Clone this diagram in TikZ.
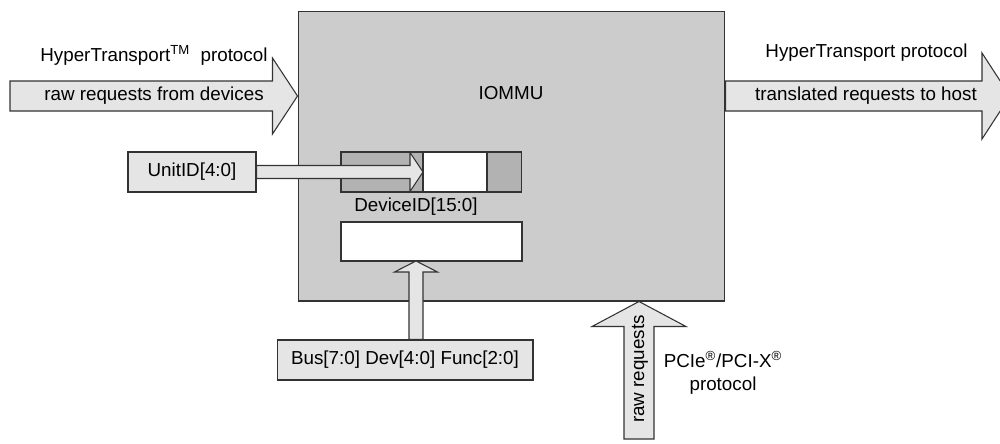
\documentclass[tikz,border=0pt]{standalone}
\usepackage{fontspec}
\setmainfont{Liberation Sans}
\usetikzlibrary{calc,positioning}
\definecolor{boxG}{gray}{0.8}
\definecolor{lightG}{gray}{0.9}
\definecolor{darkG}{gray}{0.7}
\definecolor{lineG}{gray}{0.2}
% block arrow: #1 start, #2 tip, #3 half body, #4 half head, #5 head length
\newcommand{\blockarrow}[5]{%
  \coordinate (bah) at ($(#2)!#5!(#1)$);
  \draw[fatarr] ($(#1)!#3!90:(#2)$) -- ($(bah)!#3!90:(#2)$) -- ($(bah)!#4!90:(#2)$) -- (#2)
    -- ($(bah)!#4!-90:(#2)$) -- ($(bah)!#3!-90:(#2)$) -- ($(#1)!#3!-90:(#2)$) -- cycle;}
\tikzset{
  fatarr/.style={draw=lineG, fill=lightG, line join=miter},
  plainbox/.style={draw=lineG, fill=lightG, minimum height=0.8cm, inner sep=0pt},
  regcell/.style={draw=lineG, minimum height=0.8cm, outer sep=0pt, inner sep=0pt},
  lbl/.style={inner sep=0pt}
}

\begin{document}
\begin{tikzpicture}[x=0.02cm, y=-0.02cm, line width=0.6pt, font=\fontsize{10.7}{13}\selectfont]
\useasboundingbox (0,0) rectangle (1000,443);
% ---------- IOMMU ----------
\node[draw=lineG, fill=boxG, minimum width=8.54cm, minimum height=5.8cm] (iommu) at (511.5,156) {};
\node[lbl] (iommulbl) at (511,93) {IOMMU};
% DeviceID register
\node[regcell, fill=darkG, minimum width=1.64cm, anchor=west] (reg1) at (341,172) {};
\node[regcell, fill=white, minimum width=1.28cm, right=0pt of reg1] (reg2) {};
\node[regcell, fill=darkG, minimum width=0.70cm, right=0pt of reg2] (reg3) {};
\node[lbl] (devid) at (416,207) {DeviceID[15:0]};
\node[regcell, fill=white, minimum width=3.62cm, minimum height=0.78cm] (idx) at (431.5,241.5) {};
% ---------- HyperTransport ----------
\coordinate (inL) at (10,96);
\coordinate (inT) at (iommu.west |- inL);
\blockarrow{inL}{inT}{0.3cm}{0.76cm}{0.5cm}
\node[lbl] (inlbl) at (154,96) {raw requests from devices};
\node[lbl, anchor=east] (htin) at (268,55) {HyperTransport\textsuperscript{TM}\ \ protocol};
\coordinate (outR) at (1010,96);
\coordinate (outS) at (iommu.east |- outR);
\blockarrow{outS}{outR}{0.3cm}{0.86cm}{0.56cm}
\node[lbl] (outlbl) at (866,96) {translated requests to host};
\node[lbl, anchor=east] (htout) at (968,53) {HyperTransport protocol};
% UnitID
\node[plainbox, minimum width=2.56cm] (unit) at (192,172) {UnitID[4:0]};
\blockarrow{unit.east}{reg2.west}{0.13cm}{0.39cm}{0.26cm}
% Bus/Dev/Func
\node[plainbox, minimum width=5.12cm] (bus) at (405,360) {Bus[7:0] Dev[4:0] Func[2:0]};
\coordinate (busT) at ($(idx.south)+(-15.5,0)$);
\coordinate (busS) at (bus.north -| busT);
\blockarrow{busS}{busT}{0.14cm}{0.43cm}{0.22cm}
% ---------- PCIe ----------
\coordinate (rawS) at (639,439);
\coordinate (rawT) at (iommu.south -| rawS);
\blockarrow{rawS}{rawT}{0.3cm}{0.94cm}{0.5cm}
\node[lbl, rotate=90] (rawlbl) at (640,369) {raw requests};
\node[lbl, align=center] (pcie) at (723,373) {PCIe\textsuperscript{\textregistered}/PCI-X\textsuperscript{\textregistered}\\protocol};
\end{tikzpicture}
\end{document}
